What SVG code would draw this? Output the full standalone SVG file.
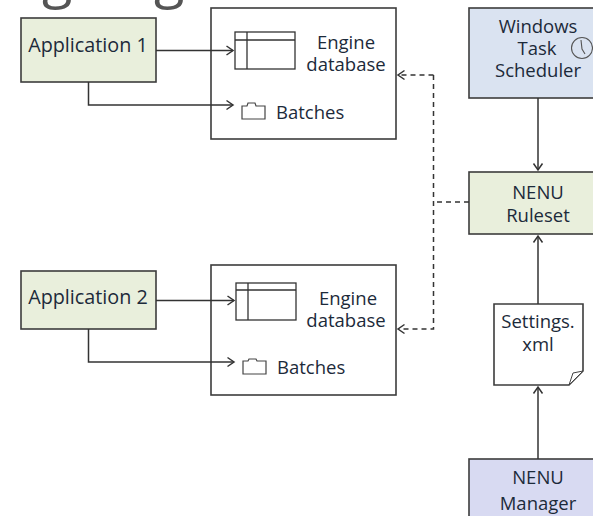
<svg xmlns="http://www.w3.org/2000/svg" width="593" height="516" viewBox="0 0 593 516">
<style>
text{font-family:"Open Sans",sans-serif;font-size:18.500px;fill:#1c2a3a}
text.a{font-size:19.800px}
.m{text-anchor:middle}
.b{stroke:#3c3c3c;stroke-width:1.6}
.l{fill:none;stroke:#333;stroke-width:1.5}
.d{fill:none;stroke:#333;stroke-width:1.5;stroke-dasharray:5 4}
text.t{font-family:"Open Sans",sans-serif;font-size:56px;font-weight:400;fill:#555}
</style>
<defs>
<marker id="a" markerWidth="10" markerHeight="12" refX="8" refY="6" orient="auto" markerUnits="userSpaceOnUse"><path d="M1.500 1.500L8 6L1.500 10.500" fill="none" stroke="#333" stroke-width="1.500"/></marker>
</defs>
<rect width="593" height="516" fill="#fff"/>
<text class="t" x="42" y="-4">g</text>
<text class="t" x="154" y="-4">g</text>
<g id="engine1">
<rect x="211" y="8" width="185" height="131" fill="#fff" class="b"/>
<g fill="none" stroke="#333" stroke-width="1.300"><rect x="235" y="32" width="60" height="37"/><path d="M235 40H295M247 32V69"/></g>
<text class="m" x="346" y="49">Engine</text>
<text class="m" x="346" y="71">database</text>
<path d="M242 106h5l1-3h7l1 3h9v13h-23z" fill="#fff" stroke="#444" stroke-width="1.200"/>
<text x="276" y="119">Batches</text>
</g>
<g id="engine2">
<rect x="211" y="265" width="185" height="130" fill="#fff" class="b"/>
<g fill="none" stroke="#333" stroke-width="1.300"><rect x="236" y="283" width="60" height="37"/><path d="M236 290H296M248 283V320"/></g>
<text class="m" x="348" y="305">Engine</text>
<text class="m" x="346" y="327">database</text>
<path d="M243 361h5l1-2h7l1 2h9v13h-23z" fill="#fff" stroke="#444" stroke-width="1.200"/>
<text x="277" y="374">Batches</text>
</g>
<g id="app1"><rect x="21" y="18" width="135" height="64" fill="#e9efdc" class="b"/><text class="m a" x="88" y="52">Application 1</text></g>
<g id="app2"><rect x="21" y="271" width="135" height="58" fill="#e9efdc" class="b"/><text class="m a" x="88" y="304">Application 2</text></g>
<g id="scheduler"><rect x="469" y="8" width="130" height="90" fill="#dae3f1" class="b"/>
<text class="m" x="538" y="33">Windows</text><text class="m" x="537" y="55">Task</text><text class="m" x="538" y="77">Scheduler</text>
<g fill="none" stroke="#555" stroke-width="1.100"><circle cx="582" cy="48" r="10.500"/><path d="M581 40L582 49L585 54"/></g></g>
<g id="ruleset"><rect x="469" y="172" width="130" height="62" fill="#e9efdc" class="b"/><text class="m" x="538" y="199">NENU</text><text class="m" x="538" y="222">Ruleset</text></g>
<g id="settings"><path d="M494 304H583V371L569 385H494Z" fill="#fff" class="b"/><path d="M569 385L573 373L583 371Z" fill="#fff" stroke="#444" stroke-width="1"/>
<text class="m" x="538" y="328">Settings.</text><text class="m" x="538" y="351">xml</text></g>
<g id="manager"><rect x="469" y="459" width="130" height="62" fill="#d8daf2" class="b"/><text class="m" x="538" y="484">NENU</text><text class="m" x="538" y="510">Manager</text></g>
<g id="connectors">
<path class="l" d="M156 50.500H233" marker-end="url(#a)"/>
<path class="l" d="M88.500 82V105H233" marker-end="url(#a)"/>
<path class="l" d="M156 300.500H234" marker-end="url(#a)"/>
<path class="l" d="M88.500 329V362H234" marker-end="url(#a)"/>
<path class="l" d="M538 98V170" marker-end="url(#a)"/>
<path class="l" d="M538 304V236" marker-end="url(#a)"/>
<path class="l" d="M538 459V387" marker-end="url(#a)"/>
<path class="d" d="M433.500 75V329H398" marker-end="url(#a)"/>
<path class="d" d="M433.500 75H398" marker-end="url(#a)"/>
<path class="d" d="M469 202H433.500"/>
</g>
</svg>
